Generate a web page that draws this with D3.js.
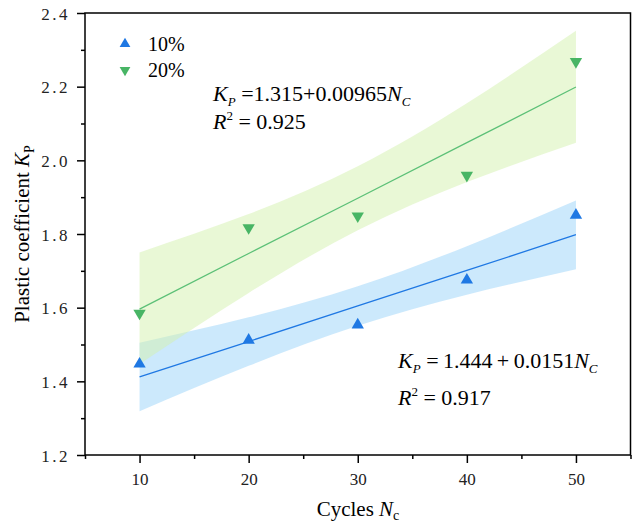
<!DOCTYPE html>
<html>
<head>
<meta charset="utf-8">
<script src="https://cdn.jsdelivr.net/npm/d3@7"></script>
<style>
  body { margin: 0; background: #fff; }
  svg text { font-family: "Liberation Serif", "Times New Roman", serif; }
</style>
</head>
<body>
<div id="chart"></div>
<script>
// Plastic coefficient vs cycles

var width = 634, height = 525;
var margin = {top: 13, right: 3, bottom: 70, left: 85};

// measured points
var cycles = [10, 20, 30, 40, 50];
var kp10 = [1.447, 1.512, 1.553, 1.675, 1.851];
var kp20 = [1.585, 1.817, 1.849, 1.959, 2.268];

// fitted lines (as drawn)
var fit10 = [1.412, 1.508, 1.605, 1.701, 1.798];
var fit20 = [1.596, 1.747, 1.897, 2.048, 2.199];

// confidence bands
var band10Lo = [1.319, 1.442, 1.551, 1.635, 1.704];
var band10Hi = [1.505, 1.574, 1.658, 1.767, 1.891];
var band20Lo = [1.447, 1.640, 1.810, 1.941, 2.048];
var band20Hi = [1.750, 1.854, 1.984, 2.155, 2.352];

var xTicks = [10, 20, 30, 40, 50];
var xMinor = [5, 15, 25, 35, 45, 55];
var yTicks = [1.2, 1.4, 1.6, 1.8, 2.0, 2.2, 2.4];
var yMinor = [1.3, 1.5, 1.7, 1.9, 2.1, 2.3];

var seriesNames = ["10%", "20%"];

var blue = "#1f78e3", blueBand = "#99d3fa";
var green = "#48b565", greenLine = "#5cc077", greenBand = "#d3f1ad";

var svg = d3.select("#chart").append("svg")
	.attr("width", width)
	.attr("height", height)
	.attr("font-family", "'Liberation Serif', serif");

var x = d3.scaleLinear().domain([5, 55]).range([margin.left, width - margin.right - 0.5]);
var y = d3.scaleLinear().domain([1.2, 2.4]).range([455, margin.top]);

// bands
var area = function(lo, hi) {
	return d3.area()
		.x(function(d, i) { return x(cycles[i]); })
		.y0(function(d, i) { return y(lo[i]); })
		.y1(function(d, i) { return y(hi[i]); })
		.curve(d3.curveNatural)(cycles);
};

svg.append("path").attr("d", area(band10Lo, band10Hi))
	.attr("fill", blueBand).attr("fill-opacity", 0.5);
svg.append("path").attr("d", area(band20Lo, band20Hi))
	.attr("fill", greenBand).attr("fill-opacity", 0.5);

// fit lines
var line = function(vals) {
	return d3.line()
		.x(function(d, i) { return x(cycles[i]); })
		.y(function(d, i) { return y(vals[i]); })(cycles);
};
svg.append("path").attr("d", line(fit10)).attr("fill", "none")
	.attr("stroke", blue).attr("stroke-width", 1.3);
svg.append("path").attr("d", line(fit20)).attr("fill", "none")
	.attr("stroke", greenLine).attr("stroke-width", 1.3);

// markers
var tri = d3.symbol().type(d3.symbolTriangle).size(66);
svg.selectAll(".m10").data(kp10).enter().append("path")
	.attr("d", tri)
	.attr("fill", blue)
	.attr("transform", function(d, i) {
		return "translate(" + x(cycles[i]) + "," + y(d) + ")";
	});
svg.selectAll(".m20").data(kp20).enter().append("path")
	.attr("d", tri)
	.attr("fill", green)
	.attr("transform", function(d, i) {
		return "translate(" + x(cycles[i]) + "," + y(d) + ") rotate(180)";
	});

// axes
var xAxis = svg.append("g")
	.attr("transform", "translate(0,455)")
	.call(d3.axisBottom(x).tickValues(xTicks).tickSize(8).tickSizeOuter(0).tickPadding(10));
svg.append("g")
	.attr("transform", "translate(0,455)")
	.call(d3.axisBottom(x).tickValues(xMinor).tickSize(4).tickSizeOuter(0).tickFormat(""));

var yAxis = svg.append("g")
	.attr("transform", "translate(" + margin.left + ",0)")
	.call(d3.axisLeft(y).tickValues(yTicks).tickSize(8).tickSizeOuter(0).tickPadding(7)
		.tickFormat(d3.format(".1f")));
svg.append("g")
	.attr("transform", "translate(" + margin.left + ",0)")
	.call(d3.axisLeft(y).tickValues(yMinor).tickSize(4).tickSizeOuter(0).tickFormat(""));

svg.selectAll(".domain").remove();
svg.selectAll("g").attr("font-family", null);
svg.selectAll(".tick line").attr("stroke", "#000").attr("stroke-width", 1.5);
svg.selectAll(".tick text")
	.attr("fill", "#222")
	.style("font-size", "17px");
yAxis.selectAll(".tick text").style("letter-spacing", "2.5px").attr("dy", "0.36em");

// frame
svg.append("rect")
	.attr("x", x(5)).attr("y", y(2.4))
	.attr("width", x(55) - x(5)).attr("height", y(1.2) - y(2.4))
	.attr("fill", "none").attr("stroke", "#000").attr("stroke-width", 1.5);

// legend
var legend = svg.append("g");
seriesNames.forEach(function(name, i) {
	var ly = 44 + i * 26;
	legend.append("path")
		.attr("d", d3.symbol().type(d3.symbolTriangle).size(50))
		.attr("fill", i == 0 ? blue : green)
		.attr("transform", "translate(125," + ly + ")" + (i == 1 ? " rotate(180)" : ""));
	legend.append("text")
		.attr("x", 148).attr("y", ly + 7)
		.style("font-size", "20px")
		.text(name);
});

// equations
function equation(px, py, k0, k1, gap) {
	var t = svg.append("text").attr("x", px).attr("y", py).style("font-size", "22px");
	t.append("tspan").style("font-style", "italic").text("K");
	t.append("tspan").style("font-style", "italic").style("font-size", "13px").attr("dy", 5).text("P");
	t.append("tspan").attr("dy", -5).text(" =" + gap + k0 + gap + "+" + gap + k1);
	t.append("tspan").style("font-style", "italic").text("N");
	t.append("tspan").style("font-style", "italic").style("font-size", "13px").attr("dy", 5).text("C");
}
function rsq(px, py, r) {
	var t = svg.append("text").attr("x", px).attr("y", py).style("font-size", "22px");
	t.append("tspan").style("font-style", "italic").text("R");
	t.append("tspan").style("font-size", "13px").attr("dy", -9).text("2");
	t.append("tspan").attr("dy", 9).text(" = " + r);
}
equation(213, 101, "1.315", "0.00965", "");
rsq(213, 129, "0.925");
equation(398, 368, "1.444", "0.0151", "\u2009");
rsq(398, 405, "0.917");

// axis titles
var xt = svg.append("text")
	.attr("x", 358).attr("y", 516)
	.attr("text-anchor", "middle")
	.style("font-size", "21px");
xt.append("tspan").text("Cycles ");
xt.append("tspan").style("font-style", "italic").text("N");
xt.append("tspan").style("font-size", "14px").attr("dy", 4).text("c");

var yt = svg.append("text")
	.attr("transform", "translate(29,234) rotate(-90)")
	.attr("text-anchor", "middle")
	.style("font-size", "21px");
yt.append("tspan").text("Plastic coefficient ");
yt.append("tspan").style("font-style", "italic").text("K");
yt.append("tspan").style("font-size", "14px").attr("dy", 5).text("P");
</script>
</body>
</html>
